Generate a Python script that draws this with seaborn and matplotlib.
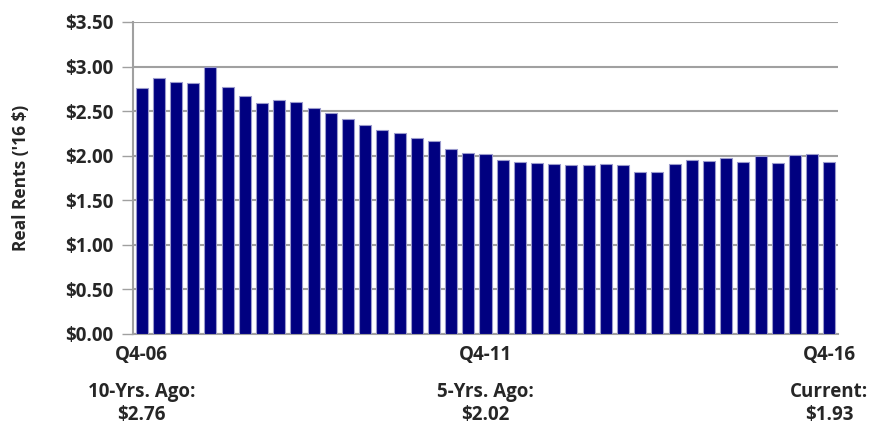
import matplotlib
matplotlib.use("Agg")
import matplotlib.pyplot as plt
import matplotlib.transforms as mtransforms
import seaborn as sns
import pandas as pd

# Quarters Q4-06 .. Q4-16
quarters = ["Q4-06",
            "Q1-07", "Q2-07", "Q3-07", "Q4-07",
            "Q1-08", "Q2-08", "Q3-08", "Q4-08",
            "Q1-09", "Q2-09", "Q3-09", "Q4-09",
            "Q1-10", "Q2-10", "Q3-10", "Q4-10",
            "Q1-11", "Q2-11", "Q3-11", "Q4-11",
            "Q1-12", "Q2-12", "Q3-12", "Q4-12",
            "Q1-13", "Q2-13", "Q3-13", "Q4-13",
            "Q1-14", "Q2-14", "Q3-14", "Q4-14",
            "Q1-15", "Q2-15", "Q3-15", "Q4-15",
            "Q1-16", "Q2-16", "Q3-16", "Q4-16"]
rents = [2.76, 2.87, 2.83, 2.82, 3.00, 2.77, 2.67, 2.59, 2.63, 2.60,
         2.53, 2.48, 2.41, 2.35, 2.29, 2.25, 2.20, 2.16, 2.07, 2.03,
         2.02, 1.95, 1.93, 1.92, 1.91, 1.90, 1.90, 1.91, 1.90, 1.82,
         1.82, 1.91, 1.95, 1.94, 1.97, 1.93, 2.00, 1.92, 2.01, 2.02,
         1.93]
shown_labels = ["Q4-06", "Q4-11", "Q4-16"]
sub_labels = ["10-Yrs. Ago:", "5-Yrs. Ago:", "Current:"]
sub_values = ["$2.76", "$2.02", "$1.93"]
yticks = [0, 0.5, 1.0, 1.5, 2.0, 2.5, 3.0, 3.5]

sns.set_style("white")
plt.rcParams["font.family"] = ["Open Sans", "DejaVu Sans"]
plt.rcParams["font.weight"] = "bold"

FS = 13.5

df = pd.DataFrame({"quarter": quarters, "rent": rents})

fig = plt.figure(figsize=(8.75, 4.26), dpi=100)
ax = fig.add_axes([133/875, 1-334/426, (838-133)/875, (334-22)/426])

sns.barplot(data=df, x="quarter", y="rent", color="#000080", saturation=1,
            width=0.7, edgecolor="#9a9acc", linewidth=0.8, ax=ax, zorder=3)

ax.set_xlim(-0.5, len(quarters) - 0.5)
ax.set_ylim(0, 3.5)
ax.set_yticks(yticks)
ax.set_yticklabels([f"${v:.2f}" for v in yticks], fontsize=FS, fontweight="bold")
ax.yaxis.grid(True, color="#a0a0a0", linewidth=1.5, zorder=0)
ax.set_axisbelow(True)

pos = [quarters.index(l) for l in shown_labels]
ax.set_xticks(pos)
ax.set_xticklabels(shown_labels, fontsize=FS, fontweight="bold")
ax.tick_params(axis="x", which="major", length=0, pad=8)
ax.set_xticks([i - 0.5 for i in range(len(quarters) + 1)], minor=True)
ax.tick_params(axis="x", which="minor", length=5, color="#a0a0a0", width=1, direction="out")
ax.tick_params(axis="y", length=8, color="#a0a0a0", width=1, direction="out", pad=6, left=True)

for s in ["top", "right"]:
    ax.spines[s].set_visible(False)
for s in ["left", "bottom"]:
    ax.spines[s].set_color("#a0a0a0")
    ax.spines[s].set_linewidth(1.5)

ax.set_xlabel("")
ax.set_ylabel("Real Rents ('16 $)", fontsize=12.5, fontweight="bold", labelpad=25)

trans = mtransforms.blended_transform_factory(ax.transData, ax.transAxes)
for p, s1, s2 in zip(pos, sub_labels, sub_values):
    ax.text(p, (334-392)/312, s1, transform=trans, ha="center", va="center",
            fontsize=FS, fontweight="bold")
    ax.text(p, (334-415)/312, s2, transform=trans, ha="center", va="center",
            fontsize=FS, fontweight="bold")

fig.savefig("out.png", dpi=100)
